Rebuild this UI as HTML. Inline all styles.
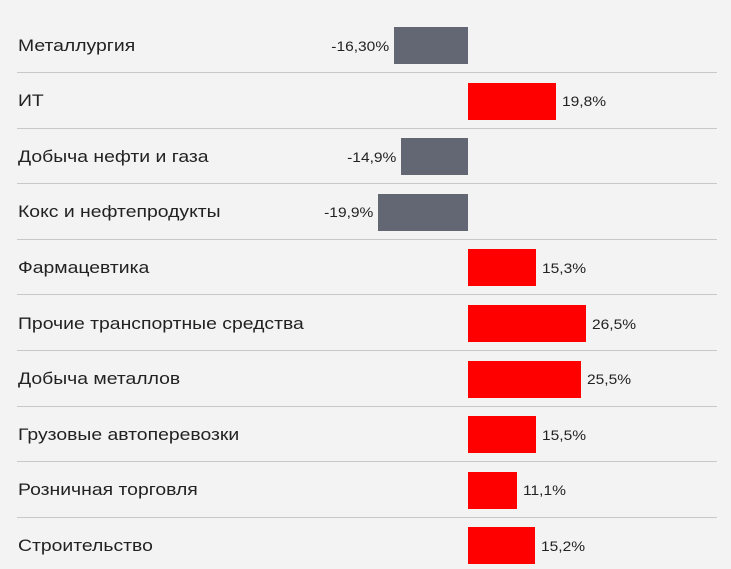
<!DOCTYPE html><html><head><meta charset="utf-8"><style>
body{margin:0;width:731px;height:569px;background:#f3f3f3;position:relative;overflow:hidden;font-family:"Liberation Sans",sans-serif;color:#222}
.l{position:absolute;left:18px;font-size:17px;line-height:20px;transform:scaleX(1.14);transform-origin:left center;white-space:nowrap}
.s{position:absolute;left:17px;width:700px;height:1px;background:#c8c8c8}
.b{position:absolute;height:37px}
.v{position:absolute;font-size:14px;line-height:16px;transform:scaleX(1.11);white-space:nowrap}
</style></head><body>
<script>
var d=[["Металлургия",-16.3,"-16,30%",394],["ИТ",19.8,"19,8%",556],["Добыча нефти и газа",-14.9,"-14,9%",401],["Кокс и нефтепродукты",-19.9,"-19,9%",378],["Фармацевтика",15.3,"15,3%",536],["Прочие транспортные средства",26.5,"26,5%",586],["Добыча металлов",25.5,"25,5%",581],["Грузовые автоперевозки",15.5,"15,5%",536],["Розничная торговля",11.1,"11,1%",517],["Строительство",15.2,"15,2%",535]];
var h="";d.forEach(function(r,i){var t=27+55.6*i,c=t+18.5;
h+='<div class="l" style="top:'+(c-10)+'px">'+r[0]+'</div>';
if(r[1]<0){h+='<div class="b" style="background:#626773;left:'+r[3]+'px;width:'+(468-r[3])+'px;top:'+t+'px"></div><div class="v" style="transform-origin:right center;right:'+(731-r[3]+5)+'px;top:'+(c-8)+'px">'+r[2]+'</div>';}
else{h+='<div class="b" style="background:#ff0000;left:468px;width:'+(r[3]-468)+'px;top:'+t+'px"></div><div class="v" style="transform-origin:left center;left:'+(r[3]+6)+'px;top:'+(c-8)+'px">'+r[2]+'</div>';}
if(i<9)h+='<div class="s" style="top:'+Math.round(72+55.6*i)+'px"></div>';});
document.write(h);
</script>
</body></html>
